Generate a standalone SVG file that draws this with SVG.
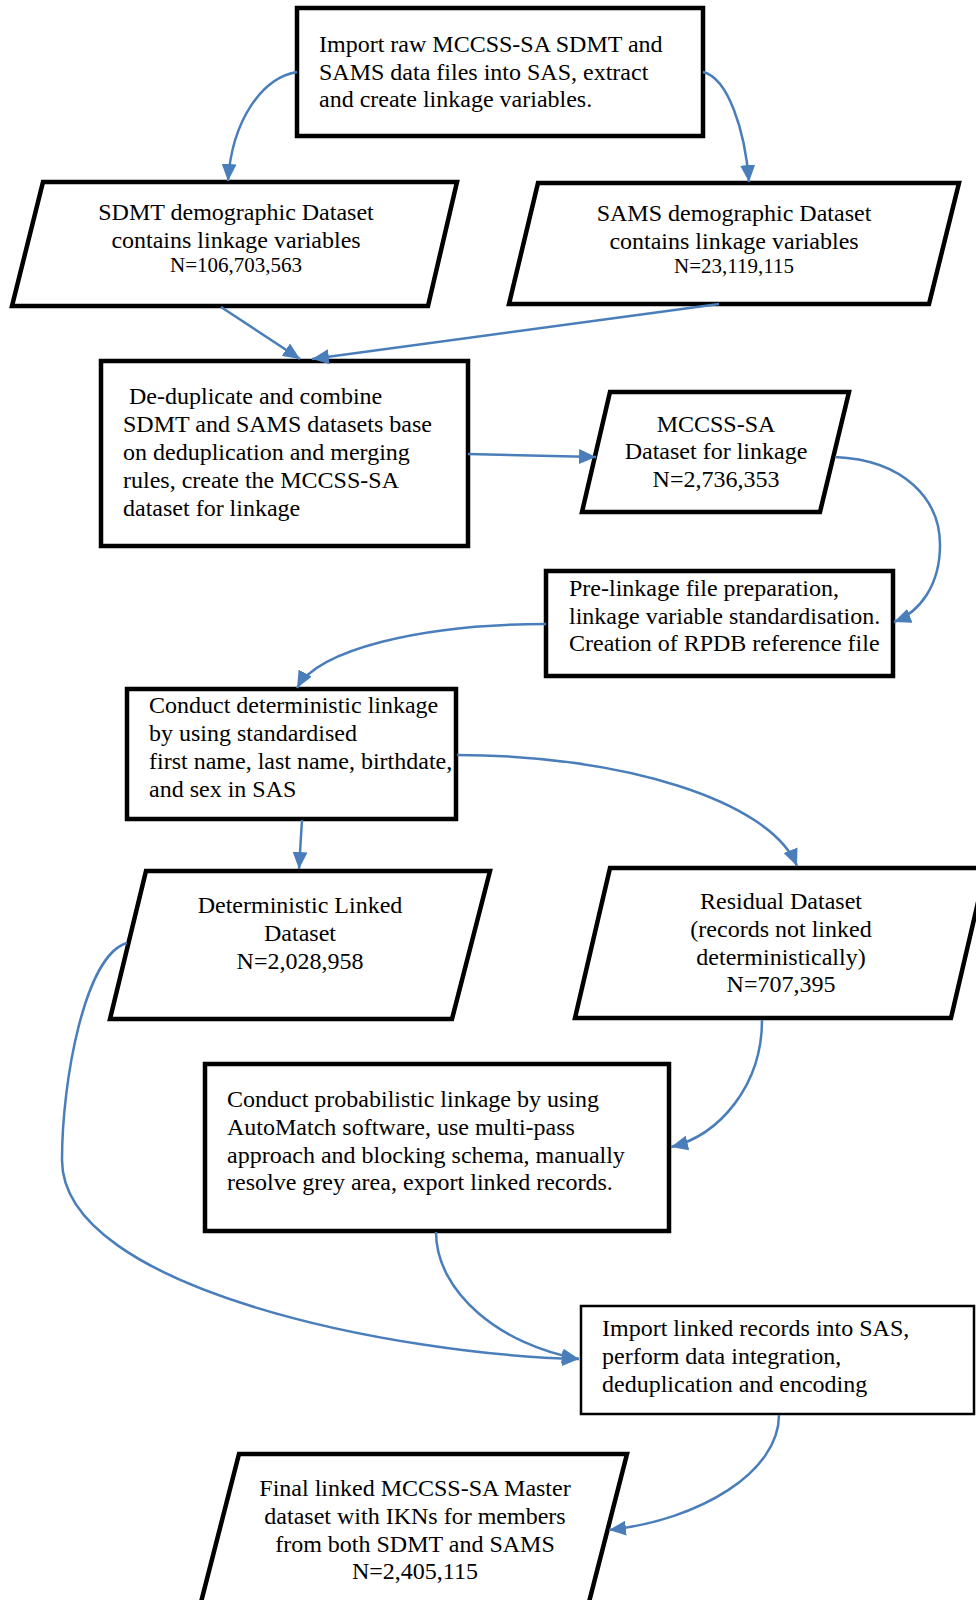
<svg xmlns="http://www.w3.org/2000/svg" width="976" height="1600" viewBox="0 0 976 1600">
<style>
.box{fill:#fff;stroke:#000;stroke-width:4.5;stroke-linejoin:miter}
.thin{stroke-width:2.5}
.t{font-family:"Liberation Serif","Times New Roman",serif;font-size:24px;fill:#000}
.c{text-anchor:middle}
.s{font-size:21px}
.conn path{fill:none;stroke:#4a7ebb;stroke-width:2.5;marker-end:url(#ah)}
</style>
<defs>
<marker id="ah" markerUnits="userSpaceOnUse" markerWidth="18" markerHeight="15" refX="17" refY="7.5" orient="auto">
<path d="M0,0 L17,7.5 L0,15 Z" fill="#4a7ebb"/>
</marker>
</defs>
<rect width="976" height="1600" fill="#fff"/>

<g id="n-import-raw">
<rect class="box" x="297" y="8" width="406" height="128"/>
<text class="t" x="319" y="52">Import raw MCCSS-SA SDMT and</text>
<text class="t" x="319" y="80">SAMS data files into SAS, extract</text>
<text class="t" x="319" y="107">and create linkage variables.</text>
</g>

<g id="n-sdmt">
<polygon class="box" points="43,182 457,182 428,306 12,306"/>
<text class="t c" x="236" y="220">SDMT demographic Dataset</text>
<text class="t c" x="236" y="248">contains linkage variables</text>
<text class="t c s" x="236" y="272">N=106,703,563</text>
</g>

<g id="n-sams">
<polygon class="box" points="538,183 959,183 929,304 509,304"/>
<text class="t c" x="734" y="221">SAMS demographic Dataset</text>
<text class="t c" x="734" y="249">contains linkage variables</text>
<text class="t c s" x="734" y="273">N=23,119,115</text>
</g>

<g id="n-dedup">
<rect class="box" x="101" y="361" width="367" height="185"/>
<text class="t" x="129" y="404">De-duplicate and combine</text>
<text class="t" x="123" y="432">SDMT and SAMS datasets base</text>
<text class="t" x="123" y="460">on deduplication and merging</text>
<text class="t" x="123" y="488">rules, create the MCCSS-SA</text>
<text class="t" x="123" y="516">dataset for linkage</text>
</g>

<g id="n-mccss">
<polygon class="box" points="610,392 849,392 820,512 582,512"/>
<text class="t c" x="716" y="432">MCCSS-SA</text>
<text class="t c" x="716" y="459">Dataset for linkage</text>
<text class="t c" x="716" y="487">N=2,736,353</text>
</g>

<g id="n-prelinkage">
<rect class="box" x="546" y="571" width="347" height="105"/>
<text class="t" x="569" y="596">Pre-linkage file preparation,</text>
<text class="t" x="569" y="624">linkage variable standardisation.</text>
<text class="t" x="569" y="651">Creation of RPDB reference file</text>
</g>

<g id="n-deterministic">
<rect class="box" x="127" y="689" width="329" height="130"/>
<text class="t" x="149" y="713">Conduct deterministic linkage</text>
<text class="t" x="149" y="741">by using standardised</text>
<text class="t" x="149" y="769">first name, last name, birthdate,</text>
<text class="t" x="149" y="797">and sex in SAS</text>
</g>

<g id="n-detlinked">
<polygon class="box" points="146,871 490,871 452,1019 110,1019"/>
<text class="t c" x="300" y="913">Deterministic Linked</text>
<text class="t c" x="300" y="941">Dataset</text>
<text class="t c" x="300" y="969">N=2,028,958</text>
</g>

<g id="n-residual">
<polygon class="box" points="610,868 986,868 951,1018 575,1018"/>
<text class="t c" x="781" y="909">Residual Dataset</text>
<text class="t c" x="781" y="937">(records not linked</text>
<text class="t c" x="781" y="965">deterministically)</text>
<text class="t c" x="781" y="992">N=707,395</text>
</g>

<g id="n-probabilistic">
<rect class="box" x="205" y="1064" width="464" height="167"/>
<text class="t" x="227" y="1107">Conduct probabilistic linkage by using</text>
<text class="t" x="227" y="1135">AutoMatch software, use multi-pass</text>
<text class="t" x="227" y="1163">approach and blocking schema, manually</text>
<text class="t" x="227" y="1190">resolve grey area, export linked records.</text>
</g>

<g id="n-importlinked">
<rect class="box thin" x="581" y="1306" width="393" height="108"/>
<text class="t" x="602" y="1336">Import linked records into SAS,</text>
<text class="t" x="602" y="1364">perform data integration,</text>
<text class="t" x="602" y="1392">deduplication and encoding</text>
</g>

<g id="n-final">
<polygon class="box" points="239,1454 627,1454 587,1610 199,1610"/>
<text class="t c" x="415" y="1496">Final linked MCCSS-SA Master</text>
<text class="t c" x="415" y="1524">dataset with IKNs for members</text>
<text class="t c" x="415" y="1552">from both SDMT and SAMS</text>
<text class="t c" x="415" y="1579">N=2,405,115</text>
</g>

<g id="connectors" class="conn">
<path d="M297,72 C262,78 232,120 228,181"/>
<path d="M703,72 C728,78 745,130 749,182"/>
<path d="M221,307 L300,359"/>
<path d="M719,304 L312,359"/>
<path d="M468,454 L596,457"/>
<path d="M835,457 C905,460 940,500 940,545 C940,585 920,612 894,622"/>
<path d="M546,624 C420,624 318,650 297,688"/>
<path d="M302,820 L299,869"/>
<path d="M457,755 C620,755 770,800 797,866"/>
<path d="M762,1020 C762,1085 720,1135 671,1147"/>
<path d="M127,943 C85,955 62,1080 62,1160 C62,1290 400,1355 579,1359"/>
<path d="M436,1232 C436,1292 500,1345 579,1359"/>
<path d="M779,1415 C779,1472 700,1520 609,1530"/>
</g>
</svg>
